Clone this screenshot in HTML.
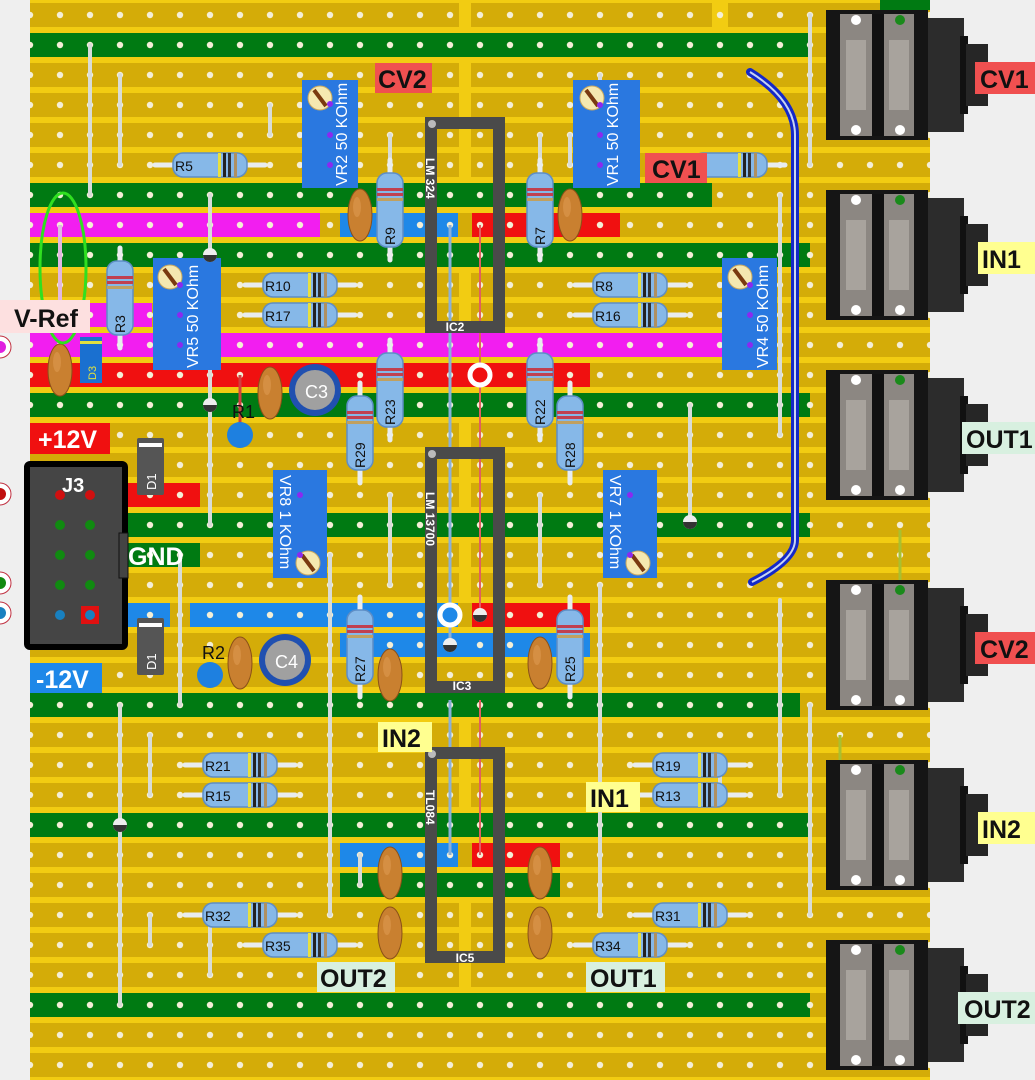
<!DOCTYPE html>
<html><head><meta charset="utf-8"><style>
html,body{margin:0;padding:0;background:#efefef;}
svg{display:block;}
text{font-family:"Liberation Sans",sans-serif;}
</style></head><body>
<svg width="1035" height="1080" viewBox="0 0 1035 1080" xmlns="http://www.w3.org/2000/svg">
<defs>
<pattern id="dots" x="15" y="0" width="30" height="30" patternUnits="userSpaceOnUse">
<circle cx="15" cy="15" r="3.2" fill="#f4efd6"/>
</pattern>
<g id="rh">
<line x1="-55" y1="0" x2="55" y2="0" stroke="#e8ecef" stroke-width="5" stroke-linecap="round"/>
<rect x="-37" y="-12" width="74" height="24" rx="10" fill="#86b8e8" stroke="#5d8dc6" stroke-width="1.5"/>
<rect x="8" y="-12" width="3" height="24" fill="#e8e040"/>
<rect x="13" y="-12" width="3" height="24" fill="#222"/>
<rect x="18" y="-12" width="3" height="24" fill="#333"/>
<rect x="24" y="-12" width="3" height="24" fill="#b09060"/>
</g>
<g id="rv">
<line x1="0" y1="-50" x2="0" y2="50" stroke="#e8ecef" stroke-width="5" stroke-linecap="round"/>
<rect x="-13" y="-37" width="26" height="74" rx="10" fill="#86b8e8" stroke="#5d8dc6" stroke-width="1.5"/>
<rect x="-13" y="-22" width="26" height="3" fill="#c04050"/>
<rect x="-13" y="-17" width="26" height="3" fill="#c04050"/>
<rect x="-13" y="-12" width="26" height="3" fill="#c0a060"/>
</g>
<g id="cap">
<ellipse cx="0" cy="0" rx="12" ry="26" fill="#c98030" stroke="#8a5018" stroke-width="1"/>
<ellipse cx="-3" cy="-8" rx="4" ry="10" fill="#dd9a50" opacity="0.6"/>
</g>
<g id="jack">
<rect x="102" y="8" width="36" height="114" fill="#2c2c2c"/>
<rect x="134" y="26" width="8" height="78" fill="#111"/>
<rect x="140" y="34" width="22" height="62" fill="#262626"/>
<rect x="0" y="0" width="102" height="130" fill="#151515"/>
<rect x="14" y="4" width="32" height="122" fill="#8c8782"/>
<rect x="58" y="4" width="30" height="122" fill="#8c8782"/>
<rect x="20" y="30" width="20" height="70" fill="#a8a39d"/>
<rect x="63" y="30" width="20" height="70" fill="#a8a39d"/>
<rect x="46" y="4" width="12" height="122" fill="#111"/>
<circle cx="30" cy="10" r="5" fill="#fff"/>
<circle cx="30" cy="120" r="5" fill="#fff"/>
<circle cx="74" cy="120" r="5" fill="#fff"/>
<circle cx="74" cy="10" r="5" fill="#1a8a1a"/>
</g>
<g id="bead"><circle r="7" fill="#eee"/><path d="M-7 0 A7 7 0 0 0 7 0 Z" fill="#333"/></g>
</defs>

<!-- board -->
<rect x="30" y="0" width="900" height="1080" fill="#f2cc12"/>
<g fill="#d4ac08">
<rect x="30" y="3" width="900" height="24"/><rect x="30" y="33" width="900" height="24"/><rect x="30" y="63" width="900" height="24"/><rect x="30" y="93" width="900" height="24"/><rect x="30" y="123" width="900" height="24"/><rect x="30" y="153" width="900" height="24"/><rect x="30" y="183" width="900" height="24"/><rect x="30" y="213" width="900" height="24"/><rect x="30" y="243" width="900" height="24"/><rect x="30" y="273" width="900" height="24"/><rect x="30" y="303" width="900" height="24"/><rect x="30" y="333" width="900" height="24"/><rect x="30" y="363" width="900" height="24"/><rect x="30" y="393" width="900" height="24"/><rect x="30" y="423" width="900" height="24"/><rect x="30" y="453" width="900" height="24"/><rect x="30" y="483" width="900" height="24"/><rect x="30" y="513" width="900" height="24"/><rect x="30" y="543" width="900" height="24"/><rect x="30" y="573" width="900" height="24"/><rect x="30" y="603" width="900" height="24"/><rect x="30" y="633" width="900" height="24"/><rect x="30" y="663" width="900" height="24"/><rect x="30" y="693" width="900" height="24"/><rect x="30" y="723" width="900" height="24"/><rect x="30" y="753" width="900" height="24"/><rect x="30" y="783" width="900" height="24"/><rect x="30" y="813" width="900" height="24"/><rect x="30" y="843" width="900" height="24"/><rect x="30" y="873" width="900" height="24"/><rect x="30" y="903" width="900" height="24"/><rect x="30" y="933" width="900" height="24"/><rect x="30" y="963" width="900" height="24"/><rect x="30" y="993" width="900" height="24"/><rect x="30" y="1023" width="900" height="24"/><rect x="30" y="1053" width="900" height="24"/>
</g>
<!-- strip breaks -->
<g fill="#f2cc12">
<rect x="459" y="0" width="12" height="180"/><rect x="459" y="270" width="12" height="60"/>
<rect x="459" y="420" width="12" height="180"/><rect x="459" y="720" width="12" height="90"/><rect x="459" y="900" width="12" height="90"/>
<rect x="712" y="0" width="16" height="30"/><rect x="712" y="390" width="16" height="30"/>
</g>
<!-- colored strips -->
<g>
<rect x="30" y="33" width="780" height="24" fill="#007a12"/>
<rect x="30" y="183" width="682" height="24" fill="#007a12"/>
<rect x="30" y="213" width="290" height="24" fill="#f21ef0"/>
<rect x="340" y="213" width="118" height="24" fill="#1e88e8"/>
<rect x="472" y="213" width="148" height="24" fill="#f01010"/>
<rect x="30" y="243" width="780" height="24" fill="#007a12"/>
<rect x="30" y="303" width="122" height="24" fill="#f21ef0"/>
<rect x="30" y="333" width="695" height="24" fill="#f21ef0"/>
<rect x="30" y="363" width="560" height="24" fill="#f01010"/>
<rect x="30" y="393" width="780" height="24" fill="#007a12"/>
<rect x="127" y="483" width="73" height="24" fill="#f01010"/>
<rect x="127" y="513" width="683" height="24" fill="#007a12"/>
<rect x="127" y="543" width="73" height="24" fill="#007a12"/>
<rect x="127" y="603" width="43" height="24" fill="#1e88e8"/>
<rect x="190" y="603" width="268" height="24" fill="#1e88e8"/>
<rect x="472" y="603" width="118" height="24" fill="#f01010"/>
<rect x="340" y="633" width="250" height="24" fill="#1e88e8"/>
<rect x="30" y="693" width="770" height="24" fill="#007a12"/>
<rect x="30" y="813" width="780" height="24" fill="#007a12"/>
<rect x="340" y="843" width="118" height="24" fill="#1e88e8"/>
<rect x="472" y="843" width="88" height="24" fill="#f01010"/>
<rect x="340" y="873" width="220" height="24" fill="#007a12"/>
<rect x="30" y="993" width="780" height="24" fill="#007a12"/>
<rect x="880" y="0" width="50" height="10" fill="#007a12"/>
</g>
<rect x="30" y="0" width="900" height="1080" fill="url(#dots)"/>

<!-- wire links -->
<g stroke="#d8dcd8" stroke-width="4" stroke-linecap="round">
<line x1="90" y1="45" x2="90" y2="195"/><line x1="120" y1="75" x2="120" y2="165"/><line x1="270" y1="105" x2="270" y2="135"/>
<line x1="210" y1="195" x2="210" y2="525"/><line x1="180" y1="555" x2="180" y2="705"/><line x1="120" y1="705" x2="120" y2="1005"/>
<line x1="150" y1="735" x2="150" y2="795"/><line x1="150" y1="915" x2="150" y2="945"/><line x1="210" y1="915" x2="210" y2="975"/>
<line x1="330" y1="705" x2="330" y2="915"/><line x1="600" y1="705" x2="600" y2="915"/><line x1="780" y1="195" x2="780" y2="435"/>
<line x1="780" y1="600" x2="780" y2="795"/><line x1="810" y1="15" x2="810" y2="165"/><line x1="810" y1="705" x2="810" y2="915"/>
<line x1="690" y1="405" x2="690" y2="525"/><line x1="330" y1="555" x2="330" y2="705"/><line x1="390" y1="495" x2="390" y2="585"/>
<line x1="540" y1="495" x2="540" y2="585"/><line x1="360" y1="855" x2="360" y2="885"/><line x1="390" y1="135" x2="390" y2="170"/>
<line x1="540" y1="135" x2="540" y2="170"/><line x1="600" y1="585" x2="600" y2="705"/><line x1="720" y1="765" x2="720" y2="795"/>
<line x1="570" y1="135" x2="570" y2="165"/><line x1="600" y1="75" x2="600" y2="105"/>
</g>
<line x1="60" y1="225" x2="60" y2="315" stroke="#e0b8e0" stroke-width="4"/>
<line x1="900" y1="530" x2="900" y2="585" stroke="#a8c030" stroke-width="3"/>
<line x1="840" y1="735" x2="840" y2="765" stroke="#a8c030" stroke-width="3"/>

<!-- IC through wires -->
<line x1="450" y1="225" x2="450" y2="645" stroke="#8ab0d8" stroke-width="3"/>
<line x1="480" y1="225" x2="480" y2="615" stroke="#e06060" stroke-width="2"/>
<line x1="450" y1="700" x2="450" y2="855" stroke="#8ab0d8" stroke-width="3"/>
<line x1="480" y1="700" x2="480" y2="855" stroke="#e06060" stroke-width="2"/>
<circle cx="480" cy="375" r="10" fill="#f01010" stroke="#fff" stroke-width="5"/>
<circle cx="450" cy="615" r="10" fill="#1e88e8" stroke="#fff" stroke-width="5"/>

<!-- ICs -->
<g fill="none" stroke="#4a4a4a" stroke-width="12">
<rect x="431" y="123" width="68" height="204"/>
<rect x="431" y="453" width="68" height="234"/>
<rect x="431" y="753" width="68" height="204"/>
</g>
<g fill="#bbb"><circle cx="432" cy="124" r="4"/><circle cx="432" cy="454" r="4"/><circle cx="432" cy="754" r="4"/></g>
<g font-size="12" font-weight="bold" fill="#fff">
<text x="455" y="331" text-anchor="middle">IC2</text>
<text x="462" y="690" text-anchor="middle">IC3</text>
<text x="465" y="962" text-anchor="middle">IC5</text>
<text transform="translate(426,158) rotate(90)">LM 324</text>
<text transform="translate(426,492) rotate(90)">LM 13700</text>
<text transform="translate(426,790) rotate(90)">TL084</text>
</g>

<!-- blue wire -->
<path d="M750 72 Q795 100 795 135 L795 540 Q795 560 752 582" fill="none" stroke="#1428c8" stroke-width="8" stroke-linecap="round"/>
<path d="M750 72 Q795 100 795 135 L795 540 Q795 560 752 582" fill="none" stroke="#c8d4f0" stroke-width="2"/>

<!-- trimmers -->
<g fill="#2a78e0">
<rect x="302" y="80" width="56" height="108"/><rect x="573" y="80" width="67" height="108"/>
<rect x="153" y="258" width="68" height="112"/><rect x="722" y="258" width="55" height="112"/>
<rect x="273" y="470" width="54" height="108"/><rect x="603" y="470" width="54" height="108"/>
</g>
<g fill="#f5e8b0" stroke="#c8a860" stroke-width="1">
<circle cx="320" cy="98" r="12"/><circle cx="592" cy="98" r="12"/><circle cx="170" cy="277" r="12"/>
<circle cx="740" cy="277" r="12"/><circle cx="308" cy="563" r="12"/><circle cx="638" cy="563" r="12"/>
</g>
<g stroke="#7a3a10" stroke-width="4">
<line x1="314" y1="90" x2="326" y2="106"/><line x1="586" y1="90" x2="598" y2="106"/><line x1="164" y1="269" x2="176" y2="285"/>
<line x1="734" y1="269" x2="746" y2="285"/><line x1="302" y1="555" x2="314" y2="571"/><line x1="632" y1="555" x2="644" y2="571"/>
</g>
<g font-size="16" fill="#fff">
<text transform="translate(347,186) rotate(-90)">VR2 50 KOhm</text>
<text transform="translate(618,186) rotate(-90)">VR1 50 KOhm</text>
<text transform="translate(198,368) rotate(-90)">VR5 50 KOhm</text>
<text transform="translate(768,368) rotate(-90)">VR4 50 KOhm</text>
<text transform="translate(280,475) rotate(90)">VR8 1 KOhm</text>
<text transform="translate(610,475) rotate(90)">VR7 1 KOhm</text>
</g>
<g fill="#8a2af0"><circle cx="330" cy="104" r="3"/><circle cx="330" cy="135" r="3"/><circle cx="330" cy="165" r="3"/>
<circle cx="600" cy="105" r="3"/><circle cx="600" cy="135" r="3"/><circle cx="600" cy="165" r="3"/>
<circle cx="180" cy="285" r="3"/><circle cx="180" cy="315" r="3"/><circle cx="180" cy="345" r="3"/>
<circle cx="750" cy="285" r="3"/><circle cx="750" cy="315" r="3"/><circle cx="750" cy="345" r="3"/>
<circle cx="300" cy="495" r="3"/><circle cx="300" cy="555" r="3"/><circle cx="630" cy="495" r="3"/><circle cx="630" cy="555" r="3"/></g>

<!-- horizontal resistors -->
<use href="#rh" x="210" y="165"/><use href="#rh" x="300" y="285"/><use href="#rh" x="300" y="315"/>
<use href="#rh" x="630" y="285"/><use href="#rh" x="630" y="315"/><use href="#rh" x="730" y="165"/>
<use href="#rh" x="240" y="765"/><use href="#rh" x="240" y="795"/><use href="#rh" x="690" y="765"/><use href="#rh" x="690" y="795"/>
<use href="#rh" x="240" y="915"/><use href="#rh" x="300" y="945"/><use href="#rh" x="690" y="915"/><use href="#rh" x="630" y="945"/>
<g font-size="14" fill="#111">
<text x="175" y="171">R5</text><text x="265" y="291">R10</text><text x="265" y="321">R17</text>
<text x="595" y="291">R8</text><text x="595" y="321">R16</text>
<text x="205" y="771">R21</text><text x="205" y="801">R15</text><text x="655" y="771">R19</text><text x="655" y="801">R13</text>
<text x="205" y="921">R32</text><text x="265" y="951">R35</text><text x="655" y="921">R31</text><text x="595" y="951">R34</text>
</g>
<!-- vertical resistors -->
<use href="#rv" x="120" y="298"/><use href="#rv" x="390" y="210"/><use href="#rv" x="540" y="210"/>
<use href="#rv" x="390" y="390"/><use href="#rv" x="540" y="390"/><use href="#rv" x="360" y="433"/><use href="#rv" x="570" y="433"/>
<use href="#rv" x="360" y="647"/><use href="#rv" x="570" y="647"/>
<g font-size="14" fill="#111">
<text transform="translate(125,333) rotate(-90)">R3</text><text transform="translate(395,245) rotate(-90)">R9</text>
<text transform="translate(545,245) rotate(-90)">R7</text><text transform="translate(395,425) rotate(-90)">R23</text>
<text transform="translate(545,425) rotate(-90)">R22</text><text transform="translate(365,468) rotate(-90)">R29</text>
<text transform="translate(575,468) rotate(-90)">R28</text><text transform="translate(365,682) rotate(-90)">R27</text>
<text transform="translate(575,682) rotate(-90)">R25</text>
</g>

<!-- caps -->
<use href="#cap" x="360" y="215"/><use href="#cap" x="570" y="215"/><use href="#cap" x="270" y="393"/>
<use href="#cap" x="240" y="663"/><use href="#cap" x="390" y="675"/><use href="#cap" x="540" y="663"/>
<use href="#cap" x="390" y="873"/><use href="#cap" x="540" y="873"/><use href="#cap" x="390" y="933"/><use href="#cap" x="540" y="933"/>
<use href="#cap" x="60" y="370"/>
<!-- electrolytics -->
<circle cx="315" cy="390" r="26" fill="#2050b0"/><circle cx="315" cy="390" r="20" fill="#a0a0a0"/>
<circle cx="285" cy="660" r="26" fill="#2050b0"/><circle cx="285" cy="660" r="20" fill="#a0a0a0"/>
<text x="305" y="398" font-size="18" fill="#fff">C3</text><text x="275" y="668" font-size="18" fill="#fff">C4</text>
<!-- R1 R2 -->
<line x1="240" y1="375" x2="240" y2="435" stroke="#d04040" stroke-width="3"/>
<circle cx="240" cy="435" r="13" fill="#1e80e0"/><circle cx="210" cy="675" r="13" fill="#1e80e0"/>
<text x="232" y="418" font-size="18" fill="#111">R1</text><text x="202" y="659" font-size="18" fill="#111">R2</text>
<!-- diodes -->
<rect x="137" y="438" width="27" height="57" rx="2" fill="#555"/><rect x="139" y="443" width="23" height="4" fill="#fff"/>
<rect x="137" y="618" width="27" height="57" rx="2" fill="#555"/><rect x="139" y="623" width="23" height="4" fill="#fff"/>
<text transform="translate(156,490) rotate(-90)" font-size="13" fill="#fff">D1</text>
<text transform="translate(156,670) rotate(-90)" font-size="13" fill="#fff">D1</text>
<rect x="80" y="337" width="22" height="46" fill="#1a70d0"/><rect x="80" y="341" width="22" height="3" fill="#e0e040"/>
<text transform="translate(96,380) rotate(-90)" font-size="11" fill="#e0e040">D3</text>
<!-- beads -->
<use href="#bead" x="210" y="255"/><use href="#bead" x="210" y="405"/><use href="#bead" x="120" y="825"/>
<use href="#bead" x="450" y="645"/><use href="#bead" x="480" y="615"/><use href="#bead" x="690" y="522"/>

<!-- green ellipse -->
<ellipse cx="63" cy="268" rx="23" ry="75" fill="none" stroke="#30e020" stroke-width="3"/>

<!-- J3 -->
<rect x="27" y="464" width="98" height="183" rx="3" fill="#454545" stroke="#000" stroke-width="6"/>
<rect x="119" y="533" width="9" height="45" fill="#444" stroke="#111"/>
<text x="62" y="492" font-size="20" font-weight="bold" fill="#fff">J3</text>
<g><circle cx="60" cy="495" r="5" fill="#d01010"/><circle cx="90" cy="495" r="5" fill="#d01010"/>
<circle cx="60" cy="525" r="5" fill="#108a10"/><circle cx="90" cy="525" r="5" fill="#108a10"/>
<circle cx="60" cy="555" r="5" fill="#108a10"/><circle cx="90" cy="555" r="5" fill="#108a10"/>
<circle cx="60" cy="585" r="5" fill="#108a10"/><circle cx="90" cy="585" r="5" fill="#108a10"/>
<circle cx="60" cy="615" r="5" fill="#1880c0"/><rect x="81" y="606" width="18" height="18" fill="#e01010"/><circle cx="90" cy="615" r="5" fill="#1880c0"/></g>
<!-- left circles -->
<circle cx="0" cy="347" r="11" fill="#fff" stroke="#c03040"/><circle cx="0" cy="347" r="6" fill="#e020e0"/>
<circle cx="0" cy="494" r="11" fill="#fff" stroke="#c03040"/><circle cx="0" cy="494" r="6" fill="#c01010"/>
<circle cx="0" cy="583" r="11" fill="#fff" stroke="#c03040"/><circle cx="0" cy="583" r="6" fill="#108a10"/>
<circle cx="0" cy="613" r="11" fill="#fff" stroke="#c03040"/><circle cx="0" cy="613" r="6" fill="#1880c0"/>

<!-- jacks -->
<use href="#jack" x="826" y="10"/><use href="#jack" x="826" y="190"/><use href="#jack" x="826" y="370"/>
<use href="#jack" x="826" y="580"/><use href="#jack" x="826" y="760"/><use href="#jack" x="826" y="940"/>

<!-- labels -->
<g font-size="25" font-weight="bold">
<rect x="0" y="300" width="90" height="33" fill="#fde0e0"/><text x="14" y="327" fill="#111">V-Ref</text>
<rect x="30" y="423" width="80" height="31" fill="#f01010"/><text x="38" y="448" fill="#fff">+12V</text>
<rect x="30" y="663" width="72" height="30" fill="#1e88e8"/><text x="36" y="688" fill="#fff">-12V</text>
<text x="128" y="565" fill="#fff">GND</text>
<rect x="375" y="63" width="57" height="30" fill="#f05050"/><text x="378" y="88" fill="#111">CV2</text>
<rect x="645" y="153" width="62" height="30" fill="#f05050"/><text x="652" y="178" fill="#111">CV1</text>
<rect x="378" y="722" width="54" height="30" fill="#ffff90"/><text x="382" y="747" fill="#111">IN2</text>
<rect x="586" y="782" width="54" height="30" fill="#ffff90"/><text x="590" y="807" fill="#111">IN1</text>
<rect x="317" y="962" width="78" height="30" fill="#d8f0e0"/><text x="320" y="987" fill="#111">OUT2</text>
<rect x="586" y="962" width="79" height="30" fill="#d8f0e0"/><text x="590" y="987" fill="#111">OUT1</text>
<rect x="975" y="62" width="60" height="32" fill="#f05050"/><text x="980" y="88" fill="#111">CV1</text>
<rect x="978" y="242" width="57" height="32" fill="#ffff90"/><text x="982" y="268" fill="#111">IN1</text>
<rect x="962" y="422" width="73" height="32" fill="#d8f0e0"/><text x="966" y="448" fill="#111">OUT1</text>
<rect x="975" y="632" width="60" height="32" fill="#f05050"/><text x="980" y="658" fill="#111">CV2</text>
<rect x="978" y="812" width="57" height="32" fill="#ffff90"/><text x="982" y="838" fill="#111">IN2</text>
<rect x="958" y="992" width="77" height="32" fill="#d8f0e0"/><text x="964" y="1018" fill="#111">OUT2</text>
</g>
</svg>
</body></html>
